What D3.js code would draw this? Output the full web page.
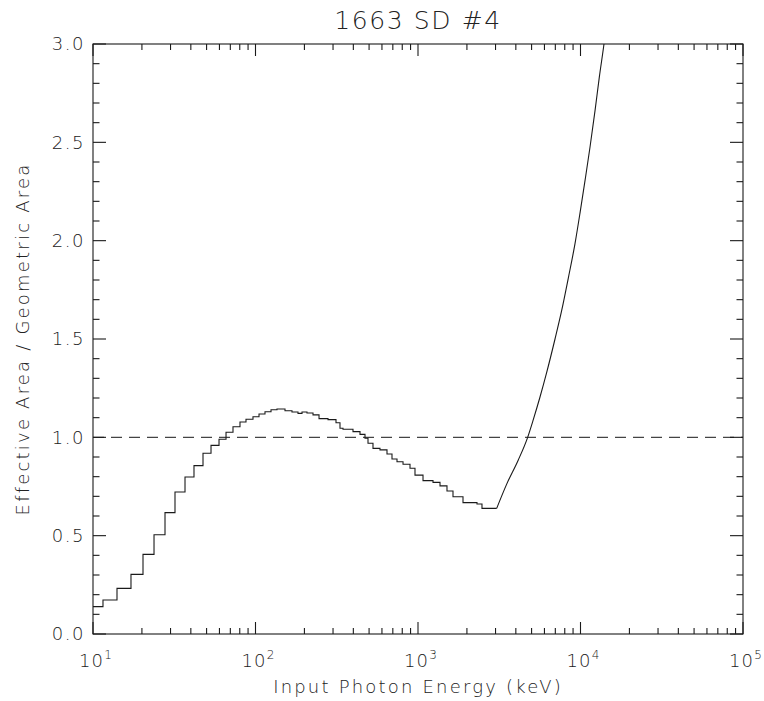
<!DOCTYPE html>
<html>
<head>
<meta charset="utf-8">
<script src="https://cdn.jsdelivr.net/npm/d3@7"></script>
<style>
  html, body { margin: 0; padding: 0; background: #fff; }
  svg text { font-family: "DejaVu Sans", "Liberation Sans", sans-serif; font-weight: 200; fill: #222; }
</style>
</head>
<body>
<svg id="chart" width="764" height="701"></svg>
<script>
// ---- data ----
const title = "1663 SD #4";
const xTitle = "Input Photon Energy (keV)";
const yTitle = "Effective Area / Geometric Area";

// histogram part: bin left edges (keV) and values
const binEnergy = [10.0, 11.52, 14.05, 17.13, 20.31, 23.74, 27.74, 31.96, 36.83, 41.83, 47.53, 53.24, 59.64, 65.86, 72.70, 80.27, 87.4, 96.5, 105.1, 114.4, 124.6, 135.6, 151.9, 167.7, 182.6, 193.3, 207.4, 225.9, 246.0, 279.4, 312.9, 331.1, 345.5, 398.1, 439.6, 471.9, 492.4, 528.5, 583.6, 644.5, 691.8, 742.7, 808.8, 892.9, 958.3, 1073.6, 1237, 1366, 1508, 1642, 1892, 2307, 2476];
const binValue  = [0.139, 0.173, 0.232, 0.303, 0.405, 0.505, 0.617, 0.722, 0.798, 0.856, 0.919, 0.959, 0.990, 1.026, 1.054, 1.078, 1.092, 1.105, 1.119, 1.130, 1.140, 1.144, 1.135, 1.129, 1.122, 1.129, 1.124, 1.114, 1.095, 1.090, 1.074, 1.046, 1.041, 1.029, 1.015, 0.995, 0.970, 0.944, 0.936, 0.915, 0.890, 0.876, 0.863, 0.843, 0.808, 0.780, 0.771, 0.753, 0.727, 0.698, 0.668, 0.661, 0.639];

// smooth rising part
const riseEnergy = [3050, 3514, 4142, 4706, 5123, 5634, 6194, 6969, 7661, 8414, 9251, 9929, 10660, 11440, 12280, 13050, 13950, 14550];
const riseValue  = [0.639, 0.762, 0.885, 0.995, 1.09, 1.205, 1.33, 1.50, 1.645, 1.81, 1.985, 2.14, 2.305, 2.475, 2.66, 2.83, 3.00, 3.12];

const refLevel = 1.0;
const xDomain = [10, 1e5];
const yDomain = [0, 3];
const xMajor = [10, 100, 1000, 10000, 100000];
const xExp = ["1", "2", "3", "4", "5"];
const yMajor = [0, 0.5, 1.0, 1.5, 2.0, 2.5, 3.0];

// ---- layout ----
const L = 93, R = 743, T = 44, B = 634;
const svg = d3.select("#chart");
const x = d3.scaleLog().domain(xDomain).range([L, R]);
const y = d3.scaleLinear().domain(yDomain).range([B, T]);

const xMinor = [];
for (let d = 10; d < 1e5; d *= 10) for (let k = 2; k <= 9; k++) xMinor.push(d * k);
const yMinor = d3.range(0, 3.0001, 0.1).map(v => +v.toFixed(2)).filter(v => !yMajor.some(m => Math.abs(m - v) < 1e-6));

const ink = "#1a1a1a";
const xMajLen = 12, xMinLen = 6, yMajLen = 13, yMinLen = 6.5;

// clip
svg.append("clipPath").attr("id", "clip").append("rect")
  .attr("x", L).attr("y", T).attr("width", R - L).attr("height", B - T);

// reference dashed line
svg.append("line")
  .attr("x1", L).attr("x2", R).attr("y1", y(refLevel)).attr("y2", y(refLevel))
  .attr("stroke", "#444").attr("stroke-width", 1.1).attr("stroke-dasharray", "11,7");

// curve
const g = svg.append("g").attr("clip-path", "url(#clip)");
const stepData = binEnergy.map((e, i) => [e, binValue[i]]).concat([[riseEnergy[0], riseValue[0]]]);
g.append("path")
  .attr("d", d3.line().x(d => x(d[0])).y(d => y(d[1])).curve(d3.curveStepAfter)(stepData))
  .attr("fill", "none").attr("stroke", ink).attr("stroke-width", 1.1);
g.append("path")
  .attr("d", d3.line().x(d => x(d)).y((d, i) => y(riseValue[i])).curve(d3.curveMonotoneX)(riseEnergy))
  .attr("fill", "none").attr("stroke", ink).attr("stroke-width", 1.1);

// frame
svg.append("rect").attr("x", L).attr("y", T).attr("width", R - L).attr("height", B - T)
  .attr("fill", "none").attr("stroke", ink).attr("stroke-width", 1.1);

// ticks
const tk = svg.append("g").attr("stroke", ink).attr("stroke-width", 1.1);
xMajor.concat(xMinor).forEach(v => {
  const len = xMajor.includes(v) ? xMajLen : xMinLen;
  const px = x(v);
  tk.append("line").attr("x1", px).attr("x2", px).attr("y1", B).attr("y2", B - len);
  tk.append("line").attr("x1", px).attr("x2", px).attr("y1", T).attr("y2", T + len);
});
yMajor.concat(yMinor).forEach(v => {
  const len = yMajor.includes(v) ? yMajLen : yMinLen;
  const py = y(v);
  tk.append("line").attr("x1", L).attr("x2", L + len).attr("y1", py).attr("y2", py);
  tk.append("line").attr("x1", R).attr("x2", R - len).attr("y1", py).attr("y2", py);
});

// x tick labels
xMajor.forEach((v, i) => {
  const t = svg.append("text").attr("x", x(v) + 3).attr("y", 667)
    .attr("text-anchor", "middle").attr("font-size", 18).attr("letter-spacing", 1.2);
  t.append("tspan").text("10");
  t.append("tspan").attr("dy", -8).attr("font-size", 12).text(xExp[i]);
});

// y tick labels
yMajor.forEach(v => {
  svg.append("text").attr("x", 85).attr("y", y(v)).attr("dy", "0.36em")
    .attr("text-anchor", "end").attr("font-size", 18).attr("letter-spacing", 1.5)
    .text(d3.format(".1f")(v));
});

// titles
svg.append("text").attr("x", (L + R) / 2).attr("y", 29).attr("text-anchor", "middle")
  .attr("font-size", 25).attr("letter-spacing", 1.6).text(title);
svg.append("text").attr("x", (L + R) / 2).attr("y", 693).attr("text-anchor", "middle")
  .attr("font-size", 18).attr("letter-spacing", 2.2).text(xTitle);
svg.append("text").attr("transform", `translate(29, ${(T + B) / 2}) rotate(-90)`)
  .attr("text-anchor", "middle").attr("font-size", 18).attr("letter-spacing", 2.2).text(yTitle);
</script>
</body>
</html>
